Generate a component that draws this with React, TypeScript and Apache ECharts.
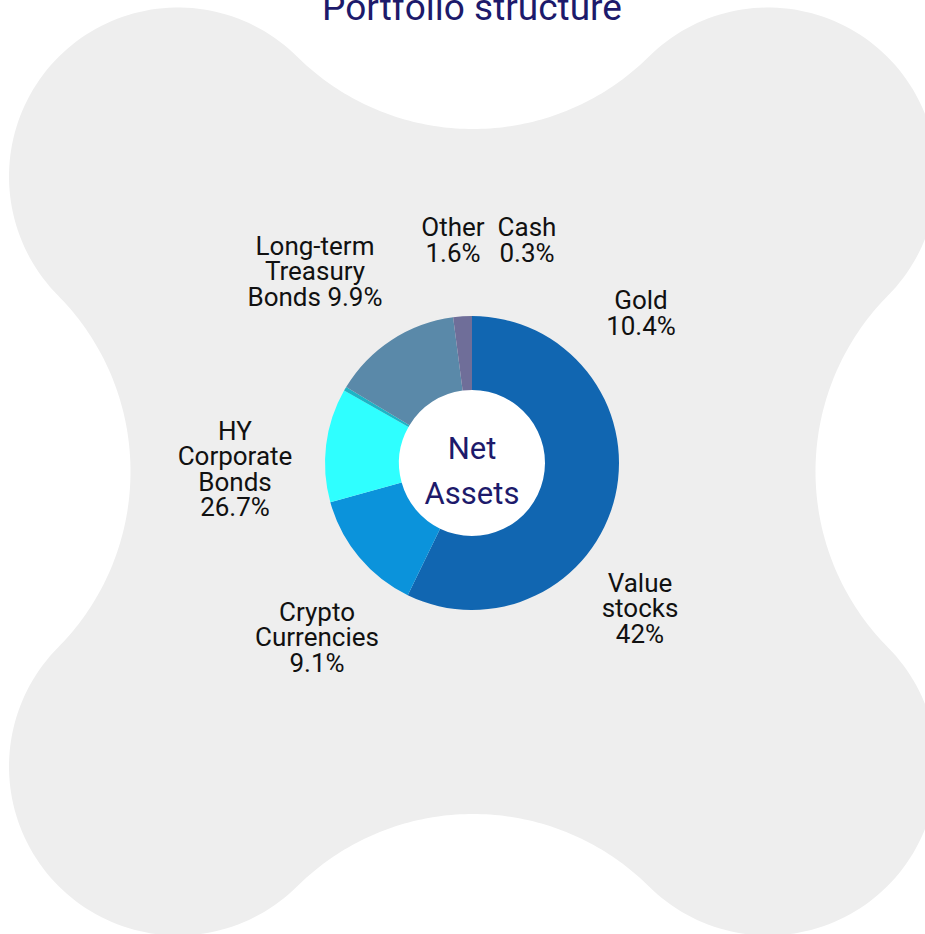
import React, { useEffect, useRef } from "react";
import * as echarts from "echarts";

// ---- data ----
const categories = [
  "Value stocks",
  "Crypto Currencies",
  "HY Corporate Bonds",
  "Cash",
  "Long-term Treasury Bonds",
  "Other",
  "Gold",
];
// slice sizes as drawn (in %)
const sliceValues = [57.2, 13.5, 12.5, 0.45, 14.3, 2.05, 0];
// percentages printed in the labels
const labelPercents = ["42%", "9.1%", "26.7%", "0.3%", "9.9%", "1.6%", "10.4%"];
// label line layouts ({p} = percentage)
const labelTemplates = [
  "Value\nstocks\n{p}",
  "Crypto\nCurrencies\n{p}",
  "HY\nCorporate\nBonds\n{p}",
  "Cash\n{p}",
  "Long-term\nTreasury\nBonds {p}",
  "Other\n{p}",
  "Gold\n{p}",
];
const titleText = "Portfolio structure";
const centerText = "Net\nAssets";

// ---- layout / style (kept apart from data) ----
const sliceColors = ["#1166B1", "#0B93DB", "#2FFFFF", "#1DB4C6", "#5A89A9", "#6F6E99", "#D9A520"];
const labelPositions: [number, number][] = [
  [640, 608],
  [317, 637],
  [235, 469],
  [527, 240],
  [315, 271],
  [453, 240],
  [641, 313],
];
const PIE_CX = 472;
const PIE_CY = 463;
const FONT = "Roboto, 'Noto Sans', sans-serif";

function blobPoints(cx: number, cy: number, d: number, r: number, h: number) {
  const R = (d * d + (h - d) * (h - d) - r * r) / (2 * (r - (h - d)));
  const corners = [
    [-d, -d],
    [d, -d],
    [d, d],
    [-d, d],
  ];
  const concaves = [
    [0, -(h + R)],
    [h + R, 0],
    [0, h + R],
    [-(h + R), 0],
  ];
  const pts: number[][] = [];
  const N = 90;
  for (let i = 0; i < 4; i++) {
    const L = corners[i];
    const Kp = concaves[(i + 3) % 4];
    const Kn = concaves[i];
    const a0 = Math.atan2(Kp[1] - L[1], Kp[0] - L[0]);
    let a1 = Math.atan2(Kn[1] - L[1], Kn[0] - L[0]);
    while (a1 < a0) a1 += Math.PI * 2;
    for (let k = 0; k <= N; k++) {
      const a = a0 + ((a1 - a0) * k) / N;
      pts.push([cx + L[0] + r * Math.cos(a), cy + L[1] + r * Math.sin(a)]);
    }
    const K = concaves[i];
    const L2 = corners[(i + 1) % 4];
    const b0 = Math.atan2(L[1] - K[1], L[0] - K[0]);
    let b1 = Math.atan2(L2[1] - K[1], L2[0] - K[0]);
    while (b1 > b0) b1 -= Math.PI * 2;
    for (let k = 0; k <= N; k++) {
      const b = b0 + ((b1 - b0) * k) / N;
      pts.push([cx + K[0] + R * Math.cos(b), cy + K[1] + R * Math.sin(b)]);
    }
  }
  return pts;
}

export default function App() {
  const ref = useRef<HTMLDivElement>(null);
  useEffect(() => {
    if (!ref.current) return;
    const chart = echarts.init(ref.current, null, { renderer: "svg" });

    const labelTexts = categories.map((c, i) => ({
      type: "text",
      z: 10,
      style: {
        text: labelTemplates[i].replace("{p}", labelPercents[i]),
        x: labelPositions[i][0],
        y: labelPositions[i][1],
        align: "center",
        verticalAlign: "middle",
        fill: "#111111",
        font: `26px ${FONT}`,
        lineHeight: 25.5,
      },
    }));

    chart.setOption({
      animation: false,
      backgroundColor: "#ffffff",
      graphic: [
        {
          type: "polygon",
          z: -10,
          shape: { points: blobPoints(473, 471.5, 295, 169, 342.5) },
          style: { fill: "#EEEEEE" },
        },
        {
          type: "circle",
          z: -5,
          shape: { cx: PIE_CX, cy: PIE_CY, r: 74 },
          style: { fill: "#ffffff" },
        },
        {
          type: "text",
          z: 10,
          style: {
            text: titleText,
            x: 472,
            y: 7,
            align: "center",
            verticalAlign: "middle",
            fill: "#1D1A6B",
            font: `37px ${FONT}`,
          },
        },
        {
          type: "text",
          z: 10,
          style: {
            text: centerText,
            x: PIE_CX,
            y: PIE_CY + 8,
            align: "center",
            verticalAlign: "middle",
            fill: "#1D1A6B",
            font: `31px ${FONT}`,
            lineHeight: 45,
          },
        },
        ...labelTexts,
      ],
      series: [
        {
          type: "pie",
          center: [PIE_CX, PIE_CY],
          radius: [73, 147],
          startAngle: 90,
          clockwise: true,
          label: { show: false },
          labelLine: { show: false },
          emphasis: { disabled: true },
          itemStyle: { borderWidth: 0 },
          data: categories.map((c, i) => ({
            name: c,
            value: sliceValues[i],
            itemStyle: { color: sliceColors[i] },
          })),
        },
      ],
    });
    return () => chart.dispose();
  }, []);
  return (
    <div
      ref={ref}
      style={{ position: "fixed", left: 0, top: 0, width: 925, height: 934 }}
    />
  );
}
